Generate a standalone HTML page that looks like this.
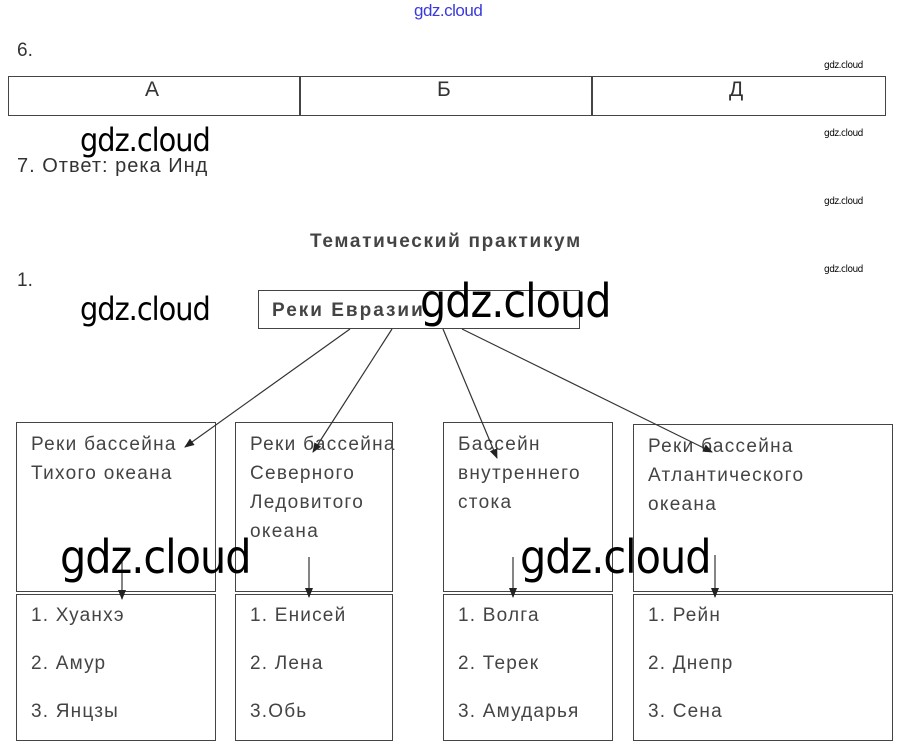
<!DOCTYPE html>
<html><head><meta charset="utf-8"><style>
body{margin:0;width:905px;height:756px;background:#fff;position:relative;overflow:hidden;font-family:"Liberation Sans",sans-serif;color:#333}
.a{position:absolute;white-space:nowrap}
.wm{position:absolute;font-family:"DejaVu Sans Condensed","Liberation Sans",sans-serif;color:#000;font-weight:normal;letter-spacing:-1px}
.sm{position:absolute;font-size:10px;color:#000;font-family:"DejaVu Sans Condensed",sans-serif;letter-spacing:-0.5px}
.box{position:absolute;border:1px solid #444;box-sizing:border-box}
.t{font-size:19px;line-height:29px;color:#444;padding:7px 0 0 14px;letter-spacing:1.3px;white-space:nowrap}
.l{font-size:19px;line-height:48px;color:#444;padding:0 0 0 14px;margin-top:-3px;letter-spacing:1.2px;white-space:nowrap}
</style></head><body>
<div class="a" style="left:414px;top:1px;font-size:17px;color:#3a3adc;letter-spacing:-0.5px">gdz.cloud</div>
<div class="a" style="left:17px;top:40px;font-size:19px">6.</div>
<div class="sm" style="left:824px;top:60px">gdz.cloud</div>
<div class="sm" style="left:824px;top:128px">gdz.cloud</div>
<div class="sm" style="left:824px;top:196px">gdz.cloud</div>
<div class="sm" style="left:824px;top:264px">gdz.cloud</div>
<div class="box" style="left:8px;top:76px;width:878px;height:40px;border-width:1.5px"></div>
<div class="box" style="left:299px;top:76px;width:1px;height:40px"></div>
<div class="box" style="left:591px;top:76px;width:1px;height:40px"></div>
<div class="a" style="left:145px;top:78px;font-size:21px">А</div>
<div class="a" style="left:437px;top:78px;font-size:21px">Б</div>
<div class="a" style="left:729px;top:78px;font-size:21px">Д</div>
<div class="wm" style="left:80px;top:121px;font-size:32px">gdz.cloud</div>
<div class="a" style="left:17px;top:155px;font-size:20px;letter-spacing:1px">7. Ответ: река Инд</div>
<div class="a" style="left:310px;top:231px;font-size:19px;font-weight:bold;color:#444;letter-spacing:1.7px">Тематический практикум</div>
<div class="a" style="left:17px;top:270px;font-size:19px">1.</div>
<div class="wm" style="left:80px;top:290px;font-size:32px">gdz.cloud</div>
<div class="box" style="left:258px;top:290px;width:322px;height:39px"></div>
<div class="a" style="left:272px;top:300px;font-size:19px;font-weight:bold;color:#444;letter-spacing:2px">Реки Евразии</div>
<div class="box" style="left:16px;top:422px;width:200px;height:170px"><div class="t">Реки бассейна<br>Тихого океана</div></div>
<div class="box" style="left:235px;top:422px;width:158px;height:170px"><div class="t">Реки бассейна<br>Северного<br>Ледовитого<br>океана</div></div>
<div class="box" style="left:443px;top:422px;width:170px;height:170px"><div class="t">Бассейн<br>внутреннего<br>стока</div></div>
<div class="box" style="left:633px;top:424px;width:260px;height:168px"><div class="t">Реки бассейна<br>Атлантического<br>океана</div></div>
<div class="box" style="left:16px;top:594px;width:200px;height:147px"><div class="l">1. Хуанхэ<br>2. Амур<br>3. Янцзы</div></div>
<div class="box" style="left:235px;top:594px;width:158px;height:147px"><div class="l">1. Енисей<br>2. Лена<br>3.Обь</div></div>
<div class="box" style="left:443px;top:594px;width:170px;height:147px"><div class="l">1. Волга<br>2. Терек<br>3. Амударья</div></div>
<div class="box" style="left:633px;top:594px;width:260px;height:147px"><div class="l">1. Рейн<br>2. Днепр<br>3. Сена</div></div>
<svg width="905" height="756" style="position:absolute;left:0;top:0">
<defs><marker id="m" markerWidth="10" markerHeight="8" refX="9" refY="4" orient="auto" markerUnits="userSpaceOnUse"><path d="M0,0L10,4L0,8z" fill="#222"/></marker></defs>
<g stroke="#333" stroke-width="1.2" marker-end="url(#m)">
<line x1="350" y1="329" x2="185" y2="447"/>
<line x1="392" y1="329" x2="313" y2="452"/>
<line x1="443" y1="329" x2="497" y2="458"/>
<line x1="462" y1="329" x2="712" y2="452"/>
<line x1="122" y1="560" x2="122" y2="599"/>
<line x1="309" y1="557" x2="309" y2="597"/>
<line x1="513" y1="557" x2="513" y2="597"/>
<line x1="715" y1="555" x2="715" y2="597"/>
</g></svg>
<div class="wm" style="left:420px;top:274px;font-size:46px">gdz.cloud</div>
<div class="wm" style="left:60px;top:530px;font-size:46px">gdz.cloud</div>
<div class="wm" style="left:520px;top:530px;font-size:46px">gdz.cloud</div>
</body></html>
